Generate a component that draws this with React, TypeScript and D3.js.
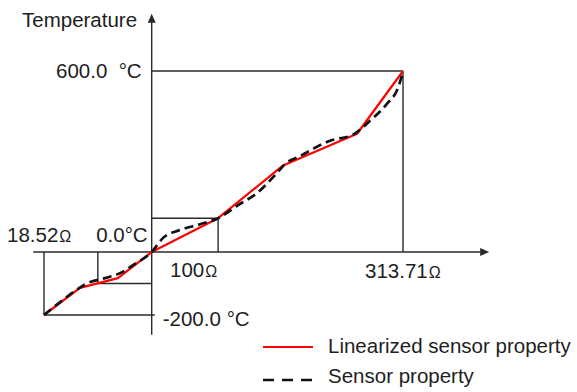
import React from "react";
import * as d3 from "d3";

// Schematic x units (0 = 18.52 Ω end, 10 = 313.71 Ω end), y in °C
const linX = [0, 1.0, 2.06, 3, 4.85, 6.66, 8.72, 10];
const linT = [-200, -114, -83, 0, 112, 287, 392, 600];

const sensX = [0, 0.45, 0.86, 1.23, 1.7, 2.12, 2.53, 3, 3.31, 3.79, 4.35, 4.85, 5.4, 5.93, 6.43, 6.77, 7.05, 7.97, 8.61, 9.08, 9.55, 9.86, 10];
const sensT = [-200, -159, -124, -98, -83, -67, -38, 0, 46, 73, 92, 112, 155, 195, 254, 297, 313, 369, 389, 435, 491, 544, 598];

const markX = { low: 0, zero: 1.5, origin: 3, r100: 4.85, high: 10, axisMin: -0.3, axisMax: 12.4 };
const markT = { low: -200, zeroBox: -100, r100: 112, high: 600, axisMin: -263, axisMax: 790 };

const legendItems = ["Linearized sensor property", "Sensor property"];

export default function App() {
  const W = 577, H = 392;
  const x = d3.scaleLinear().domain([0, 10]).range([44, 403]);
  const y = d3.scaleLinear().domain([-200, 0, 600]).range([315, 252, 71]);

  const linData = linX.map((v, i) => [v, linT[i]] as [number, number]);
  const sensData = sensX.map((v, i) => [v, sensT[i]] as [number, number]);
  const linPath = d3.line().x(d => x(d[0])).y(d => y(d[1]))(linData) || "";
  const sensPath = d3.line().curve(d3.curveMonotoneX).x(d => x(d[0])).y(d => y(d[1]))(sensData) || "";

  const ox = x(markX.origin), oy = y(0);
  const gc = "#2a2a2a";
  const gw = 1.4;
  const font = "'Liberation Sans', Arial, sans-serif";
  const fs = 20.5;
  const tc = "#1e1e1e";
  const omega = (s: string) => <tspan fontSize={16} dx={1}>{s}</tspan>;

  const yTop = y(markT.axisMax), yBot = y(markT.axisMin);
  const xLeft = x(markX.axisMin), xRight = x(markX.axisMax);

  return (
    <svg width={W} height={H} style={{ position: "absolute", left: 0, top: 0, background: "#fff" }}
      fontFamily={font}>
      {/* guide lines */}
      <g stroke={gc} strokeWidth={gw} fill="none">
        <line x1={ox} y1={y(markT.high)} x2={x(markX.high)} y2={y(markT.high)} />
        <line x1={x(markX.high)} y1={y(markT.high)} x2={x(markX.high)} y2={oy} />
        <line x1={ox} y1={y(markT.r100)} x2={x(markX.r100)} y2={y(markT.r100)} />
        <line x1={x(markX.r100)} y1={y(markT.r100)} x2={x(markX.r100)} y2={oy} />
        <line x1={x(markX.low)} y1={oy} x2={x(markX.low)} y2={y(markT.low)} />
        <line x1={x(markX.low)} y1={y(markT.low)} x2={ox + 3} y2={y(markT.low)} />
        <line x1={x(markX.zero)} y1={oy} x2={x(markX.zero)} y2={y(markT.zeroBox)} />
        <line x1={x(markX.zero)} y1={y(markT.zeroBox)} x2={ox} y2={y(markT.zeroBox)} />
        {/* axes */}
        <line x1={xLeft} y1={oy} x2={xRight - 7} y2={oy} />
        <line x1={ox} y1={yBot} x2={ox} y2={yTop + 7} />
      </g>
      <path d={`M${xRight},${oy} L${xRight - 9},${oy - 4} L${xRight - 9},${oy + 4} Z`} fill={gc} />
      <path d={`M${ox},${yTop} L${ox - 4},${yTop + 9} L${ox + 4},${yTop + 9} Z`} fill={gc} />

      {/* series */}
      <path d={linPath} fill="none" stroke="#ff0000" strokeWidth={2.2} strokeLinejoin="round" />
      <path d={sensPath} fill="none" stroke="#111" strokeWidth={2.7} strokeDasharray="9 5" />

      {/* labels */}
      <g fill={tc} fontSize={fs}>
        <text x={22} y={27}>Temperature</text>
        <text x={56} y={y(markT.high) + 7}>600.0</text>
        <text x={ox - 10} y={y(markT.high) + 7} textAnchor="end">°C</text>
        <text x={7} y={oy - 10}>18.52{omega("Ω")}</text>
        <text x={ox - 4} y={oy - 10} textAnchor="end">0.0°C</text>
        <text x={170} y={oy + 25}>100{omega("Ω")}</text>
        <text x={x(markX.high) - 38} y={oy + 26}>313.71{omega("Ω")}</text>
        <text x={ox + 11} y={y(markT.low) + 11}>-200.0</text>
        <text x={x(markX.origin) + 98} y={y(markT.low) + 11} textAnchor="end">°C</text>
      </g>

      {/* legend */}
      <g fontSize={fs} fill={tc}>
        <line x1={263} y1={347} x2={313} y2={347} stroke="#ff0000" strokeWidth={2.2} />
        <text x={328} y={353}>{legendItems[0]}</text>
        <line x1={263} y1={380} x2={313} y2={380} stroke="#111" strokeWidth={2.7} strokeDasharray="11 8" />
        <text x={328} y={383}>{legendItems[1]}</text>
      </g>
    </svg>
  );
}
